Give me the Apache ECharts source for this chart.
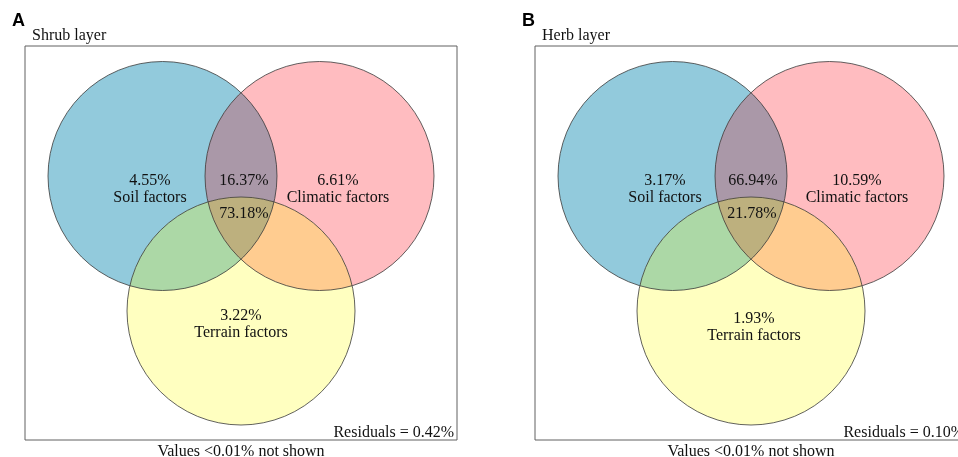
<!DOCTYPE html>
<html>
<head>
<meta charset="utf-8">
<title>Variance partitioning – shrub and herb layers</title>
<script src="https://cdn.jsdelivr.net/npm/echarts@6/dist/echarts.min.js"></script>
<style>
  html, body { margin: 0; padding: 0; background: #ffffff; }
  #chart { width: 958px; height: 457px; }
</style>
</head>
<body>
<div id="chart"></div>
<script>
// ---- data -------------------------------------------------------------
const setNames = ['Soil factors', 'Climatic factors', 'Terrain factors'];

// unique fractions (%) for soil, climatic, terrain
const shrubUnique = [4.55, 6.61, 3.22];
const herbUnique = [3.17, 10.59, 1.93];

// shared fractions (%): soil∩climatic, soil∩terrain, climatic∩terrain (null = <0.01%)
const shrubShared = [16.37, null, null];
const herbShared = [66.94, null, null];

// fraction shared by all three groups (%)
const shrubAll = 73.18;
const herbAll = 21.78;

const shrubResidual = 0.42;
const herbResidual = 0.10;

const panelLetters = ['A', 'B'];
const panelTitles = ['Shrub layer', 'Herb layer'];
const footNote = 'Values <0.01% not shown';

// ---- layout -----------------------------------------------------------
const FONT = '"Liberation Serif", "Times New Roman", serif';
const BOX_W = 432, BOX_H = 394, BOX_TOP = 46;
const boxLeft = [25, 535];
const TEXT_DY = 2; // baseline nudge for the serif face

// circles in box units: [cx, cy, r]
const circles = [
  [137.5, 130, 114.5],
  [294.5, 130, 114.5],
  [216, 265, 114]
];
const regionColors = {
  '100': '#92CADC', '010': '#FFBCC0', '001': '#FFFFC0',
  '110': '#AA98A8', '101': '#ACD8A6', '011': '#FFCC90',
  '111': '#BDB07E'
};
const regionMasks = ['100', '010', '001', '110', '101', '011', '111'];

// label anchors in box units, per panel
const labelPos = [
  { unique: [[125, 141.5], [313, 141.5], [216, 276.5]],
    shared: [[219, 133], null, null], all: [219, 166] },
  { unique: [[130, 141.5], [322, 141.5], [219, 279.5]],
    shared: [[218, 133], null, null], all: [217, 166] }
];

const fmt = v => v.toFixed(2) + '%';

// ---- geometry helpers (pixel space) ----------------------------------
function inside(p, c, tol) {
  const dx = p[0] - c[0], dy = p[1] - c[1];
  return dx * dx + dy * dy <= (c[2] + tol) * (c[2] + tol);
}
function pairPoints(a, b) {
  const dx = b[0] - a[0], dy = b[1] - a[1];
  const d = Math.hypot(dx, dy);
  if (d >= a[2] + b[2] || d <= Math.abs(a[2] - b[2])) return [];
  const l = (a[2] * a[2] - b[2] * b[2] + d * d) / (2 * d);
  const h = Math.sqrt(Math.max(0, a[2] * a[2] - l * l));
  const mx = a[0] + l * dx / d, my = a[1] + l * dy / d;
  return [[mx + h * dy / d, my - h * dx / d], [mx - h * dy / d, my + h * dx / d]];
}
// Intersection of several disks (convex): boundary samples sorted by angle.
function intersectionPolygon(cs) {
  const pts = [];
  const N = 720;
  cs.forEach((c, i) => {
    const others = cs.filter((_, j) => j !== i);
    for (let k = 0; k < N; k++) {
      const t = 2 * Math.PI * k / N;
      const p = [c[0] + c[2] * Math.cos(t), c[1] + c[2] * Math.sin(t)];
      if (others.every(o => inside(p, o, 0))) pts.push(p);
    }
    for (let j = i + 1; j < cs.length; j++) {
      pairPoints(c, cs[j]).forEach(p => {
        if (cs.every(o => inside(p, o, 0.01))) pts.push(p);
      });
    }
  });
  const cx = pts.reduce((s, p) => s + p[0], 0) / pts.length;
  const cy = pts.reduce((s, p) => s + p[1], 0) / pts.length;
  pts.sort((p, q) => Math.atan2(p[1] - cy, p[0] - cx) - Math.atan2(q[1] - cy, q[0] - cx));
  return pts;
}
function pixelCircles(api) {
  return circles.map(c => {
    const p = api.coord([c[0], c[1]]);
    const r = api.size([c[2], 0])[0];
    return [p[0], p[1], r];
  });
}

// ---- series builders ---------------------------------------------------
function regionSeries(idx) {
  return {
    type: 'custom', xAxisIndex: idx, yAxisIndex: idx, z: 2, silent: true,
    data: regionMasks.map((m, k) => [k]),
    encode: { x: -1, y: -1 },
    renderItem: function (params, api) {
      const mask = regionMasks[params.dataIndex];
      const pc = pixelCircles(api);
      const sel = pc.filter((_, i) => mask[i] === '1');
      const style = { fill: regionColors[mask], stroke: null };
      if (sel.length === 1) {
        return { type: 'circle', shape: { cx: sel[0][0], cy: sel[0][1], r: sel[0][2] }, style: style };
      }
      return { type: 'polygon', shape: { points: intersectionPolygon(sel) }, style: style };
    }
  };
}
function outlineSeries(idx) {
  return {
    type: 'custom', xAxisIndex: idx, yAxisIndex: idx, z: 3, silent: true,
    data: circles.map((c, k) => [k]),
    encode: { x: -1, y: -1 },
    renderItem: function (params, api) {
      const c = pixelCircles(api)[params.dataIndex];
      return { type: 'circle', shape: { cx: c[0], cy: c[1], r: c[2] },
               style: { fill: null, stroke: '#3a3a3a', lineWidth: 0.8 } };
    }
  };
}
function labelSeries(idx, unique, shared, all) {
  const pos = labelPos[idx];
  const items = [];
  unique.forEach((v, i) => items.push({ value: pos.unique[i], text: fmt(v) + '\n' + setNames[i] }));
  shared.forEach((v, i) => { if (v !== null) items.push({ value: pos.shared[i], text: fmt(v) }); });
  items.push({ value: pos.all, text: fmt(all) });
  return {
    type: 'custom', xAxisIndex: idx, yAxisIndex: idx, z: 4, silent: true,
    data: items.map(d => d.value),
    renderItem: function (params, api) {
      const p = api.coord([api.value(0), api.value(1)]);
      return {
        type: 'text', x: p[0], y: p[1] + TEXT_DY,
        style: { text: items[params.dataIndex].text, font: '16px ' + FONT, fill: '#111',
                 align: 'center', verticalAlign: 'middle', lineHeight: 17 }
      };
    }
  };
}

// ---- chart -----------------------------------------------------------
const chart = echarts.init(document.getElementById('chart'), null, { renderer: 'canvas' });

const grids = boxLeft.map(l => ({
  left: l, top: BOX_TOP, width: BOX_W, height: BOX_H,
  outerBoundsMode: 'none', containLabel: false,
  show: true, borderColor: '#606060', borderWidth: 1, backgroundColor: 'transparent'
}));
const xAxes = boxLeft.map((_, i) => ({ type: 'value', gridIndex: i, min: 0, max: BOX_W, show: false }));
const yAxes = boxLeft.map((_, i) => ({ type: 'value', gridIndex: i, min: 0, max: BOX_H, inverse: true, show: false }));

const residuals = [shrubResidual, herbResidual];
const texts = [];
boxLeft.forEach((l, i) => {
  texts.push({ type: 'text', left: l - 13, top: 12,
    style: { text: panelLetters[i], font: 'bold 18px "Liberation Sans", Arial, sans-serif', fill: '#000' } });
  texts.push({ type: 'text', x: l + 7, y: 34 + TEXT_DY,
    style: { text: panelTitles[i], font: '16px ' + FONT, fill: '#111', verticalAlign: 'middle' } });
  texts.push({ type: 'text', x: l + BOX_W - 3, y: 431 + TEXT_DY,
    style: { text: 'Residuals = ' + fmt(residuals[i]), font: '16px ' + FONT, fill: '#111',
             align: 'right', verticalAlign: 'middle' } });
  texts.push({ type: 'text', x: l + BOX_W / 2, y: 450 + TEXT_DY,
    style: { text: footNote, font: '16px ' + FONT, fill: '#111', align: 'center', verticalAlign: 'middle' } });
});

chart.setOption({
  animation: false,
  backgroundColor: '#ffffff',
  grid: grids,
  xAxis: xAxes,
  yAxis: yAxes,
  series: [
    regionSeries(0), outlineSeries(0), labelSeries(0, shrubUnique, shrubShared, shrubAll),
    regionSeries(1), outlineSeries(1), labelSeries(1, herbUnique, herbShared, herbAll)
  ],
  graphic: texts
});
</script>
</body>
</html>
